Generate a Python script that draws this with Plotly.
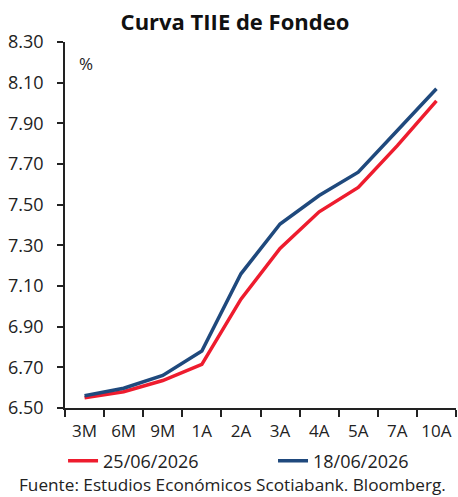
import plotly.graph_objects as go

categories = ["3M", "6M", "9M", "1A", "2A", "3A", "4A", "5A", "7A", "10A"]
serie_25jun = [6.55, 6.58, 6.635, 6.715, 7.035, 7.285, 7.465, 7.585, 7.79, 8.01]
serie_18jun = [6.56, 6.597, 6.66, 6.78, 7.16, 7.405, 7.545, 7.66, 7.865, 8.07]
y_ticks = [6.5, 6.7, 6.9, 7.1, 7.3, 7.5, 7.7, 7.9, 8.1, 8.3]
y_ticktext = ["%.2f" % v for v in y_ticks]

RED = "#ee1c2e"
BLUE = "#1f497d"
FONT = "Open Sans"

fig = go.Figure()
fig.add_trace(go.Scatter(x=categories, y=serie_25jun, mode="lines", name="25/06/2026",
                         line=dict(color=RED, width=3.5), legend="legend"))
fig.add_trace(go.Scatter(x=categories, y=serie_18jun, mode="lines", name="18/06/2026",
                         line=dict(color=BLUE, width=3.5), legend="legend2"))

leg_common = dict(orientation="h", y=-0.145, yanchor="middle", xanchor="left",
                  font=dict(size=18), bgcolor="rgba(0,0,0,0)")

fig.update_layout(
    width=458, height=497,
    margin=dict(l=65, r=2, t=42, b=89),
    paper_bgcolor="white", plot_bgcolor="white",
    font=dict(family=FONT, size=16, color="#222222"),
    title=dict(text="<b>Curva TIIE de Fondeo</b>", x=0.513, xanchor="center",
               y=0.955, yanchor="middle", font=dict(family=FONT, size=22, color="#111111")),
    showlegend=True,
    legend=dict(x=-0.005, **leg_common),
    legend2=dict(x=0.532, **leg_common),
    xaxis=dict(type="category", range=[-0.5, 9.5], showline=True, linecolor="#222222",
               linewidth=1.5, ticks="outside", tickson="boundaries", ticklen=7,
               tickcolor="#222222", tickwidth=1.5, showgrid=False, tickangle=0,
               ticklabelstandoff=7, tickfont=dict(size=17)),
    yaxis=dict(range=[6.5, 8.3], tickvals=y_ticks, ticktext=y_ticktext, showline=True,
               linecolor="#222222", linewidth=1.5, ticks="outside", ticklen=6,
               tickcolor="#222222", tickwidth=1.5, showgrid=False, zeroline=False,
               ticklabelstandoff=10, tickfont=dict(size=18)),
    annotations=[
        dict(text="%", xref="paper", yref="paper", x=0.03, y=0.94, xanchor="left",
             yanchor="middle", showarrow=False, font=dict(size=17)),
        dict(text="Fuente: Estudios Económicos Scotiabank. Bloomberg.", xref="paper",
             yref="paper", x=0.428, y=-0.21, xanchor="center", yanchor="middle",
             showarrow=False, font=dict(size=17.2)),
    ],
)

fig.write_html("out.html", config={"displayModeBar": False},
               post_script="document.body.style.margin='0';")
